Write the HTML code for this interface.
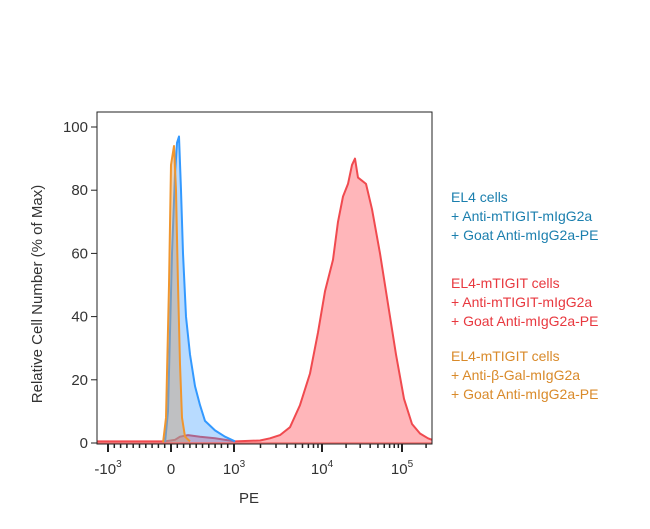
<!DOCTYPE html>
<html><head><meta charset="utf-8"><style>
body{margin:0;background:#fff;}
svg{font-family:"Liberation Sans",sans-serif;}
</style></head><body>
<svg id="c" width="650" height="524">
<g id="plot"></g>
<rect x="97" y="112" width="335" height="332" fill="none" stroke="#222" stroke-width="1"/>
<text x="26" y="278" font-size="15" fill="#333" transform="rotate(-90 42 278)" text-anchor="middle">Relative Cell Number (% of Max)</text>
<text x="249" y="503" font-size="15" fill="#333" text-anchor="middle">PE</text>
<g font-size="14">
<text x="451" y="202" fill="#1b7fae"><tspan x="451">EL4 cells</tspan><tspan x="451" dy="19">+ Anti-mTIGIT-mIgG2a</tspan><tspan x="451" dy="19">+ Goat Anti-mIgG2a-PE</tspan></text>
<text x="451" y="288" fill="#e8383f"><tspan x="451">EL4-mTIGIT cells</tspan><tspan x="451" dy="19">+ Anti-mTIGIT-mIgG2a</tspan><tspan x="451" dy="19">+ Goat Anti-mIgG2a-PE</tspan></text>
<text x="451" y="361" fill="#d98a2a"><tspan x="451">EL4-mTIGIT cells</tspan><tspan x="451" dy="19">+ Anti-β-Gal-mIgG2a</tspan><tspan x="451" dy="19">+ Goat Anti-mIgG2a-PE</tspan></text>
</g>
</svg>
<script>
const redX=[-1175,-95,63,143,270,460,698,1030,1974,2565,3334,4329,5623,7305,9010,10900,13730,15850,18300,21130,23710,25850,28180,31620,35480,42170,53090,66830,84140,105900,133400,167900,211300,237100];
const redY=[0.5,0.5,1,2,2.5,2,1.5,0.5,0.8,1.5,2.5,5,12,22,35,48,58,70,78,82,88,90,84,83,82,74,60,44,28,14,6,3,1.5,1];
const blueX=[-95,-48,16,63,95,127,159,190,238,302,381,460,540,698,857,1030];
const blueY=[0,10,60,85,95,97,80,60,40,28,18,12,7,4,2,0.5];
const orangeX=[-127,-79,-32,0,48,79,111,143,175,222,302];
const orangeY=[0,8,50,88,94,80,50,25,8,2,0.5];
const yTicks=[0,20,40,60,80,100];
const xMajor=[-1000,0,1000,10000,100000];
const xLabels=["-10","0","10","10","10"];
const xSup=["3","","3","4","5"];

function xs(v){
  if(v<=1000) return 171+v*63/1000;
  const l=Math.log10(v);
  if(l<=4) return 234+(l-3)*88;
  return 322+(l-4)*80;
}
function ys(v){return 443-v*3.16;}
const NS="http://www.w3.org/2000/svg";
const g=document.getElementById('plot');
function mk(t,a){const e=document.createElementNS(NS,t);for(const k in a)e.setAttribute(k,a[k]);g.appendChild(e);return e;}
function series(X,Y,stroke,fill,name){
  let d="M"+xs(X[0])+","+ys(0);
  for(let i=0;i<X.length;i++)d+=" L"+xs(X[i]).toFixed(1)+","+ys(Y[i]).toFixed(1);
  d+=" L"+xs(X[X.length-1])+","+ys(0)+"Z";
  const f=mk('path',{d:d,fill:fill,stroke:'none'});
  
  
  let l="";
  for(let i=0;i<X.length;i++)l+=(i?" L":"M")+xs(X[i]).toFixed(1)+","+ys(Y[i]).toFixed(1);
  const p=mk('path',{d:l,fill:'none',stroke:stroke,'stroke-width':2,'stroke-linejoin':'round'});
  
  
}
series(redX,redY,'#f04a4f','rgba(255,110,118,0.5)','series-el4-mtigit');
series(blueX,blueY,'#3399ff','rgba(51,153,255,0.35)','series-el4');
series(orangeX,orangeY,'#f0962e','rgba(200,160,120,0.45)','series-isotype');
// baseline line across
const bl=mk('line',{x1:97,x2:432,y1:443,y2:443,stroke:'#f07070','stroke-width':1.5});


// y ticks
yTicks.forEach(t=>{
  const l=mk('line',{x1:91,x2:97,y1:ys(t),y2:ys(t),stroke:'#222'});
  
  
  const tx=mk('text',{x:88,y:ys(t)+5,'text-anchor':'end','font-size':15,fill:'#333'});
  tx.textContent=t;
  
  
});
// x minor ticks
const minors=[];
for(let v=-900;v<=900;v+=100)minors.push(v);
[1000,10000,100000].forEach(b=>{for(let k=2;k<=9;k++)minors.push(b*k);});
minors.forEach(v=>{const x=xs(v);if(x<97||x>432)return;
  const l=mk('line',{x1:x,x2:x,y1:444,y2:448,stroke:'#222','stroke-width':1.5});
  
  });
xMajor.forEach((v,i)=>{const x=xs(v);
  const l=mk('line',{x1:x,x2:x,y1:444,y2:452,stroke:'#222','stroke-width':2});
  
  
  const t=mk('text',{x:x,y:474,'text-anchor':'middle','font-size':15,fill:'#333'});
  
  
  t.textContent=xLabels[i];
  if(xSup[i]){const s=document.createElementNS(NS,'tspan');s.setAttribute('dy','-7');s.setAttribute('font-size','10');s.textContent=xSup[i];t.appendChild(s);}
});
</script>
</body></html>
